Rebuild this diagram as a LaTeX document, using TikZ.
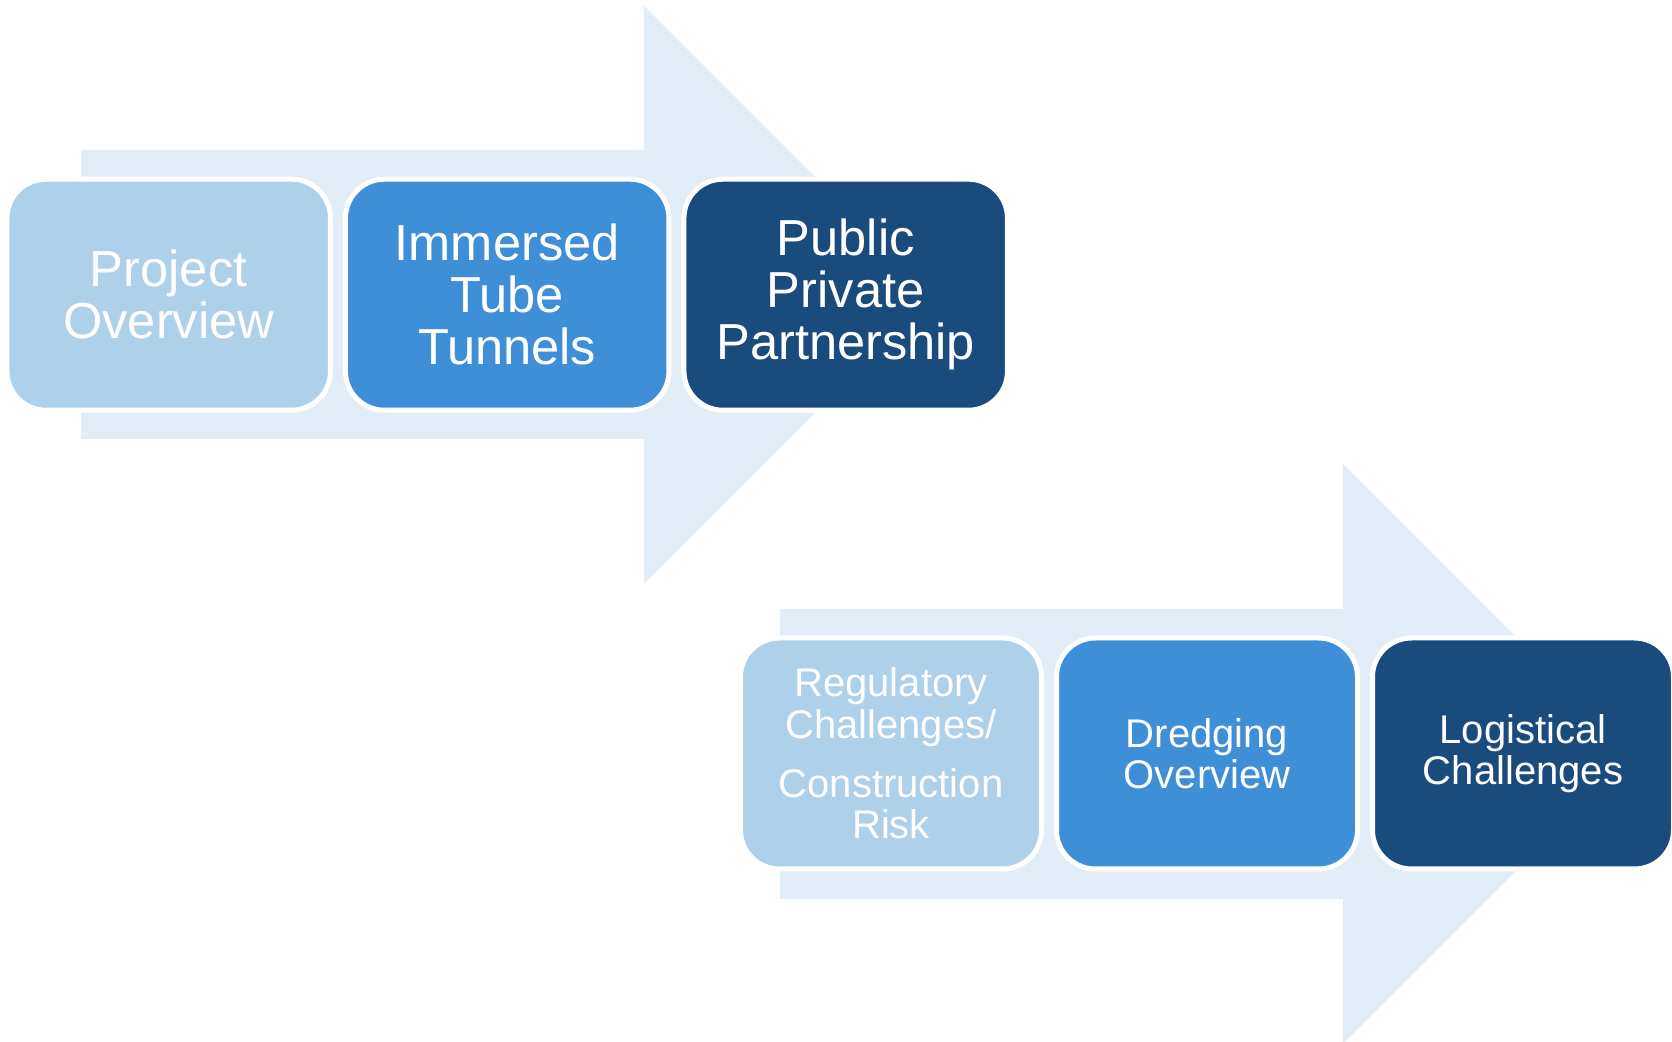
\documentclass[tikz,border=0pt]{standalone}
\usepackage{fontspec}
\setmainfont{Liberation Sans}
\usetikzlibrary{positioning}

\definecolor{bandblue}{HTML}{E2EDF8}
\definecolor{paleblue}{HTML}{ADD0EB}
\definecolor{midblue}{HTML}{3F8FD8}
\definecolor{deepblue}{HTML}{1A4B7D}

\begin{document}
\begin{tikzpicture}[
  x=0.5pt, y=-0.5pt,
  node distance=7.5pt,
  stage/.style={
    rectangle, rounded corners=19.5pt, draw=white, line width=2.5pt,
    text=white, align=center, inner sep=0pt, outer sep=0pt,
    minimum height=115.5pt
  },
  topbox/.style={
    stage, minimum width=161.75pt,
    font=\fontsize{25.3}{26}\selectfont
  },
  lowbox/.style={
    stage, minimum width=150.5pt,
    font=\fontsize{20}{20.75}\selectfont
  },
  band/.style={fill=bandblue}
  ]
  \useasboundingbox (0,0) rectangle (1672,1042);

  % the two wide arrows behind the rows
  \fill[band] (81,150) -- (644,150) -- (644,6) -- (933,295)
    -- (644,584) -- (644,439) -- (81,439) -- cycle;
  \fill[band] (780,609) -- (1343,609) -- (1343,464) -- (1633,754)
    -- (1343,1044) -- (1343,899) -- (780,899) -- cycle;

  % first row
  \node[topbox, fill=paleblue] (overview) at (168.7,294.7) {Project\\Overview};
  \node[topbox, fill=midblue, right=of overview] (tunnels) {Immersed\\Tube\\Tunnels};
  \node[topbox, fill=deepblue, right=of tunnels] (ppp) {Public\\Private\\Partnership};

  % second row
  \node[lowbox, fill=paleblue] (risk) at (891,753.5)
    {Regulatory\\Challenges/\\[8.75pt]Construction\\Risk};
  \node[lowbox, fill=midblue, right=of risk] (dredging) {Dredging\\Overview};
  \node[lowbox, fill=deepblue, right=of dredging] (logistics) {Logistical\\Challenges};
\end{tikzpicture}
\end{document}
